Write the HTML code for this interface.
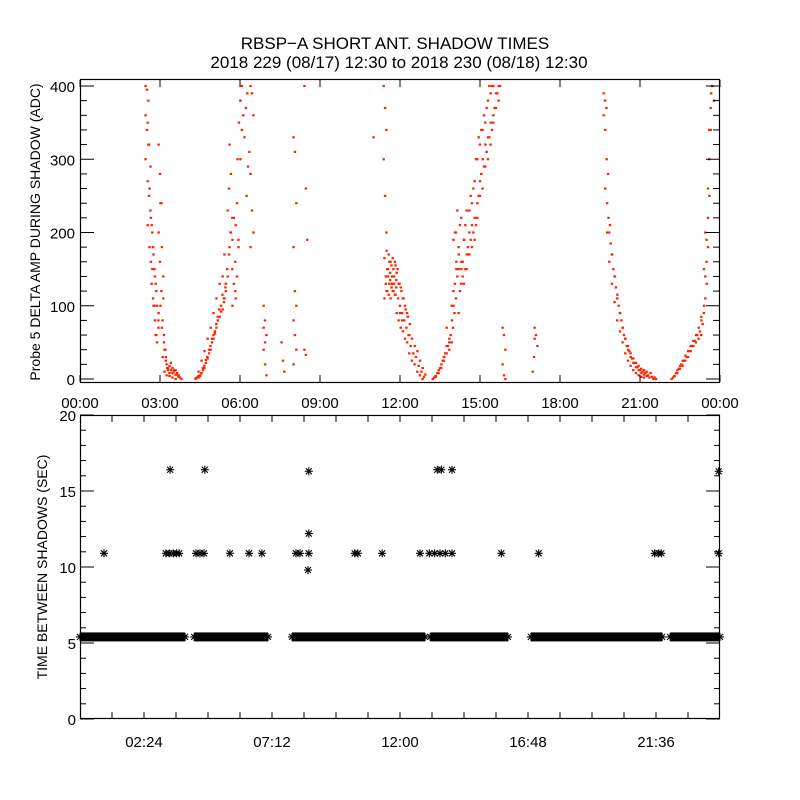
<!DOCTYPE html>
<html><head><meta charset="utf-8"><style>
html,body{margin:0;padding:0;background:#fff}
svg{display:block}
text{font-family:"Liberation Sans",sans-serif;fill:#000}
</style></head><body>
<svg id="chart" width="800" height="800" viewBox="0 0 800 800" xmlns="http://www.w3.org/2000/svg">
<rect width="800" height="800" fill="#fff"/>
<text x="395" y="49" font-size="17" text-anchor="middle">RBSP−A SHORT ANT. SHADOW TIMES</text>
<text x="399" y="68" font-size="17" text-anchor="middle">2018 229 (08/17) 12:30 to 2018 230 (08/18) 12:30</text>
<g id="topPanel"></g>
<g id="botPanel"></g>
<text transform="translate(40,232) rotate(-90)" font-size="14" text-anchor="middle">Probe 5 DELTA AMP DURING SHADOW (ADC)</text>
<text transform="translate(47,567) rotate(-90)" font-size="14" text-anchor="middle">TIME BETWEEN SHADOWS (SEC)</text>
</svg>
<script>
// ---- top panel data: [hour, ADC value] columns ----
const arc1Hours=[2.51,2.59,2.66,2.74,2.81,2.89,3.0,3.07,3.15,3.22,3.3,3.41,3.52,3.64,3.75];
const arc1Vals=[[400,395,380,360,340,320,300],[350,320,290,270,250,230,210],[260,220,200,180,160,150],[210,180,150,130,110,100],[170,140,120,100,80,60],[130,100,80,60,50,70],[320,280,240,200,160,120,90],[240,180,140,100,70,110],[80,60,40,30,50],[40,25,15,10,30],[20,12,8,5,15],[18,12,8,4,22],[15,10,6,2,12],[12,6,3,0,8],[5,2,0]];
const arc2Hours=[4.39,4.5,4.61,4.72,4.84,4.95,5.06,5.17,5.29,5.4,5.47,5.59,5.66,5.77,5.89,5.96,6.07,6.22,6.3,6.45];
const arc2Vals=[[0,2,4,1],[2,5,8,10,4],[8,12,18,25,15],[15,22,30,38,26],[28,35,45,55,40],[40,50,60,70,55],[55,65,75,90,62],[70,85,95,110,80],[85,100,115,130,92],[95,110,125,140,105],[110,130,150,170,120],[140,170,200,230,260],[180,200,220,320,280,150],[100,130,160,190,220,120],[110,140,180,210,240,190],[300,350,380],[300,340,360,380,400],[330,370,390],[250,290,310],[400,390,360,280,230,200,180]];
const midHours=[6.94,7.61,8.06,8.47,11.06,11.44];
const midVals=[[100,80,60,40,20,5,70,50],[50,25,10],[330,310,240,180,120,100,80,60,40,20],[400,260,190,40,33],[330],[400,370,340,300,250,200]];
const arc3Hours=[11.47,11.55,11.63,11.7,11.78,11.86,11.93,12.0,12.08,12.16,12.24,12.32,12.4,12.5,12.6,12.7,12.8,12.9];
const arc3Vals=[[110,130,150,165,140,120],[120,140,160,175,150,130],[115,135,155,170,145,125],[110,130,150,160,140,120],[120,140,155,165,130,115],[115,135,150,160,125],[90,110,130,145],[80,100,120,130,90],[70,90,110,125,80],[65,80,95,110],[55,70,85,100],[50,60,75,90],[35,45,55,60],[25,35,45],[20,30,38],[10,18,25],[5,10,15],[0,3,6]];
const arc4Hours=[13.28,13.4,13.5,13.6,13.7,13.8,13.9,13.99,15.9,17.03,17.1];
const arc4Vals=[[0,2,4],[3,8,12],[8,15,20],[15,25,30],[25,35,45,30],[35,45,55,70],[40,60,80,50],[50,70,90,100],[70,60,40,20,5,0],[10,30],[70,60,45,55]];
const climbHours=[14.06,14.15,14.25,14.35,14.45,14.55,14.65,14.75,14.85,14.95,15.05,15.15,15.25,15.35,15.45,15.55,15.65,15.75];
const climbVals=[[100,130,160,190,200,150,120],[110,140,170,200,230,150],[90,120,150,180,210,160],[130,160,190,220,140],[130,150,170,190,210],[150,170,200,230,180],[170,190,210,230,250],[180,200,220,240,260],[190,210,240,270,300],[220,250,270,300,330],[250,280,300,320,340],[260,290,320,340,360],[290,310,330,350,370],[300,330,350,380,400],[320,340,360,390,400],[350,370,390,400],[370,390,400],[380,400]];
const arc5Hours=[19.69,19.75,19.82,19.9,20.0,20.1,20.2,20.3,20.4,20.5,20.6,20.7,20.8,20.9,21.0,21.1,21.2,21.3,21.45,21.6];
const arc5Vals=[[390,380,370,360],[340,300,280,260],[240,220,210,200],[200,185,170,160],[170,150,140,130],[140,125,115,105],[110,100,90,80],[90,80,70,65],[70,60,55,50],[55,45,40,35],[45,38,30,25],[35,28,22,18],[28,22,16,12],[22,16,12,8],[18,12,8,5],[14,10,6,3],[12,8,4,2],[10,5,2],[8,3,0],[2,0]];
const arc6Hours=[22.24,22.35,22.45,22.55,22.65,22.75,22.85,22.95,23.05,23.15,23.25,23.35,23.45,23.5,23.55,23.6,23.65,23.72];
const arc6Vals=[[0,2,4],[4,8,12],[8,14,18],[14,20,25],[18,25,32],[25,30,38],[30,38,45],[38,45,52],[45,52,60],[50,60,70],[55,65,80],[60,75,100,85],[90,110,130,150],[140,160,180,200],[190,220,250],[260,300,340],[340,370,400],[390,400,380]];

// ---- bottom panel data ----
const bandValue=5.4;
const bandStartHours=[0.0,4.28,7.95,13.13,16.91,22.13];
const bandEndHours=[3.94,7.05,12.94,16.05,21.83,24.0];
const outlierHours=[0.9,3.22,3.35,3.5,3.62,3.72,4.35,4.5,4.65,5.62,6.34,6.82,8.1,8.25,8.58,10.3,10.42,11.33,12.75,13.1,13.3,13.5,13.7,13.95,15.8,17.2,21.55,21.7,21.8,23.95,3.38,4.68,8.58,13.4,13.55,13.95,23.95,8.58,8.55];
const outlierVals=[10.9,10.9,10.9,10.9,10.9,10.9,10.9,10.9,10.9,10.9,10.9,10.9,10.9,10.9,10.9,10.9,10.9,10.9,10.9,10.9,10.9,10.9,10.9,10.9,10.9,10.9,10.9,10.9,10.9,10.9,16.4,16.4,16.3,16.4,16.4,16.4,16.3,12.2,9.8];

const NS='http://www.w3.org/2000/svg';
function mk(tag,attrs,parent){const e=document.createElementNS(NS,tag);for(const k in attrs)e.setAttribute(k,attrs[k]);parent.appendChild(e);return e;}
const X0=80,X1=720;
const xH=h=>X0+h/24*(X1-X0);
const TY0=379,TYS=0.7325;
const yTop=v=>TY0-v*TYS;
const BY0=719,BYS=15.2;
const yBot=v=>BY0-v*BYS;
const topG=document.getElementById('topPanel');
const botG=document.getElementById('botPanel');

function drawCols(hours,vals,name){
  hours.forEach((h,i)=>{vals[i].forEach((v,j)=>{
    const cx=xH(h)+((j%3)-1)*1.4;
    const r=mk('rect',{x:cx-1.2,y:yTop(v)-1.1,width:2.4,height:2.2,fill:'#ff2200'},topG);
    
    
  });});
}
drawCols(arc1Hours,arc1Vals,'arc1');
drawCols(arc2Hours,arc2Vals,'arc2');
drawCols(midHours,midVals,'mid');
drawCols(arc3Hours,arc3Vals,'arc3');
drawCols(arc4Hours,arc4Vals,'arc4');
drawCols(climbHours,climbVals,'climb');
drawCols(arc5Hours,arc5Vals,'arc5');
drawCols(arc6Hours,arc6Vals,'arc6');

const tf=mk('rect',{x:80.5,y:79.5,width:639,height:303,fill:'none',stroke:'#000','stroke-width':1.2},topG);


const topYTicks=[0,100,200,300,400];
for(let v=0;v<=400;v+=20){const y=yTop(v);const L=(v%100===0)?14:7;
  mk('line',{x1:80,x2:80+L,y1:y,y2:y,stroke:'#000'},topG);mk('line',{x1:720,x2:720-L,y1:y,y2:y,stroke:'#000'},topG);}
topYTicks.forEach(v=>{const t=mk('text',{x:75,y:yTop(v)+6,'font-size':15,'text-anchor':'end'},topG);t.textContent=v;
  
  });
const topXLabels=['00:00','03:00','06:00','09:00','12:00','15:00','18:00','21:00','00:00'];
topXLabels.forEach((s,i)=>{const x=xH(i*3);
  mk('line',{x1:x,x2:x,y1:80,y2:87,stroke:'#000'},topG);mk('line',{x1:x,x2:x,y1:382,y2:375,stroke:'#000'},topG);
  const t=mk('text',{x:x,y:408,'font-size':15,'text-anchor':'middle'},topG);t.textContent=s;
  
  });

function star(x,y,parent){const g=mk('g',{stroke:'#000','stroke-width':1.1},parent);
  mk('line',{x1:x-4,x2:x+4,y1:y,y2:y},g);mk('line',{x1:x,x2:x,y1:y-4,y2:y+4},g);
  mk('line',{x1:x-3,x2:x+3,y1:y-3,y2:y+3},g);mk('line',{x1:x-3,x2:x+3,y1:y+3,y2:y-3},g);return g;}
bandStartHours.forEach((s,i)=>{const x1=xH(s),x2=xH(bandEndHours[i]);const y=yBot(bandValue);
  const r=mk('rect',{x:x1,y:y-4.5,width:Math.max(0,x2-x1),height:9,fill:'#000'},botG);
  
  
  star(x1,y,botG);star(x2,y,botG);});
outlierHours.forEach((h,i)=>{const g=star(xH(h),yBot(outlierVals[i]),botG);
  
  });
const bf=mk('rect',{x:80.5,y:415.5,width:639,height:303,fill:'none',stroke:'#000','stroke-width':1.2},botG);


const botYTicks=[0,5,10,15,20];
for(let v=0;v<=20;v++){const y=yBot(v);const L=(v%5===0)?14:6;
  mk('line',{x1:80,x2:80+L,y1:y,y2:y,stroke:'#000'},botG);mk('line',{x1:720,x2:720-L,y1:y,y2:y,stroke:'#000'},botG);}
botYTicks.forEach(v=>{const t=mk('text',{x:76,y:yBot(v)+6,'font-size':15,'text-anchor':'end'},botG);t.textContent=v;
  
  });
for(let k=1;k<20;k++){const x=xH(k*1.2);
  mk('line',{x1:x,x2:x,y1:416,y2:422,stroke:'#000'},botG);mk('line',{x1:x,x2:x,y1:718,y2:712,stroke:'#000'},botG);}
const botXLabels=['02:24','07:12','12:00','16:48','21:36'];
botXLabels.forEach((s,i)=>{const x=xH(2.4+i*4.8);
  const t=mk('text',{x:x,y:747,'font-size':15,'text-anchor':'middle'},botG);t.textContent=s;
  
  });
</script>
</body></html>
